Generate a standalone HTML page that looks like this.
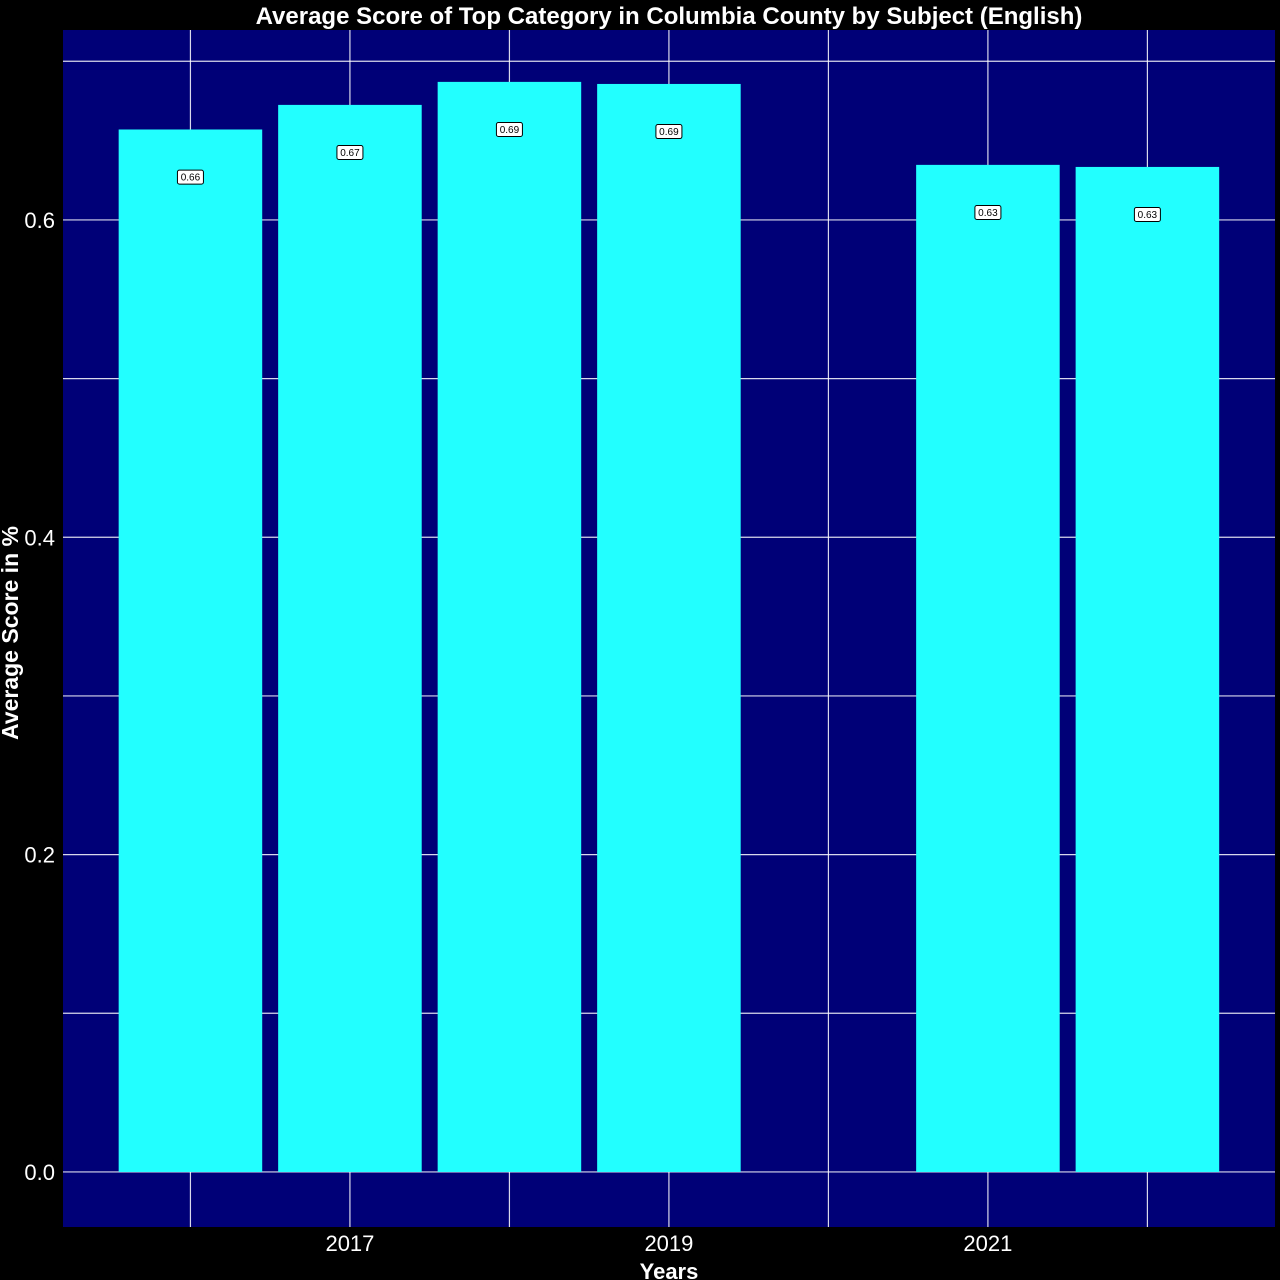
<!DOCTYPE html>
<html><head><meta charset="utf-8"><style>
html,body{margin:0;padding:0;background:#000;}
svg{display:block;font-family:"Liberation Sans",Arial,sans-serif;}
</style></head><body>
<svg id="chart" width="1280" height="1280">
<rect x="0" y="0" width="1280" height="1280" fill="#000"/>
<rect x="63" y="30" width="1212" height="1197" fill="#000077"/>
<g id="grid"></g>
<g id="bars"></g>
<g id="labels"></g>
<g id="axes"></g>
<text x="669" y="24" text-anchor="middle" font-size="24" font-weight="bold" fill="#fff">Average Score of Top Category in Columbia County by Subject (English)</text>
<text x="669" y="1279" text-anchor="middle" font-size="22" font-weight="bold" fill="#fff">Years</text>
<text transform="translate(18,633) rotate(-90)" text-anchor="middle" font-size="23" font-weight="bold" fill="#fff">Average Score in %</text>
</svg>
<script>
const years = [2016, 2017, 2018, 2019, 2021, 2022];
const scores = [0.657, 0.6725, 0.687, 0.6857, 0.6347, 0.6334];
const valueLabels = ["0.66", "0.67", "0.69", "0.69", "0.63", "0.63"];
const yTicks = [0, 0.2, 0.4, 0.6];
const yTickLabels = ["0.0", "0.2", "0.4", "0.6"];
const yGrid = [0, 0.1, 0.2, 0.3, 0.4, 0.5, 0.6, 0.7];
const xTicks = [2017, 2019, 2021];
const xGrid = [2016, 2017, 2018, 2019, 2020, 2021, 2022];

const NS = "http://www.w3.org/2000/svg";
const L = 63, R = 1275, T = 30, B = 1227;
const xMin = 2015.201, xMax = 2022.800, yMin = -0.0347, yMax = 0.7197;
const xs = v => L + (v - xMin) / (xMax - xMin) * (R - L);
const ys = v => B - (v - yMin) / (yMax - yMin) * (B - T);
function mk(tag, attrs, parent) {
  const e = document.createElementNS(NS, tag);
  for (const k in attrs) e.setAttribute(k, attrs[k]);
  parent.appendChild(e);
  return e;
}
const grid = document.getElementById('grid');
yGrid.forEach(v => {
  const l = mk('line', {x1: L, x2: R, y1: ys(v), y2: ys(v), stroke: '#ffffff', 'stroke-width': 1.2, 'stroke-opacity': 0.85}, grid);
  
  
});
xGrid.forEach(v => {
  const l = mk('line', {x1: xs(v), x2: xs(v), y1: T, y2: B, stroke: '#ffffff', 'stroke-width': 1.2, 'stroke-opacity': 0.85}, grid);
  
  
});
const bars = document.getElementById('bars');
const labels = document.getElementById('labels');
const bw = 0.9;
years.forEach((yr, i) => {
  const x0 = xs(yr - bw / 2), x1 = xs(yr + bw / 2);
  const r = mk('rect', {x: x0, y: ys(scores[i]), width: x1 - x0, height: ys(0) - ys(scores[i]), fill: '#22ffff'}, bars);
  
  
  const cy = ys(scores[i] - 0.03);
  const g = mk('g', {}, labels);
  
  
  mk('rect', {x: xs(yr) - 13, y: cy - 7, width: 26, height: 14, rx: 2, fill: '#fff', stroke: '#000', 'stroke-width': 1}, g);
  const t = mk('text', {x: xs(yr), y: cy + 3.5, 'text-anchor': 'middle', 'font-size': 10, fill: '#000'}, g);
  t.textContent = valueLabels[i];
});
const axes = document.getElementById('axes');
yTicks.forEach((v, i) => {
  const t = mk('text', {x: 55, y: ys(v) + 8, 'text-anchor': 'end', 'font-size': 22, fill: '#fff'}, axes);
  
  
  t.textContent = yTickLabels[i];
});
xTicks.forEach(v => {
  const t = mk('text', {x: xs(v), y: 1251, 'text-anchor': 'middle', 'font-size': 22, fill: '#fff'}, axes);
  
  
  t.textContent = String(v);
});
</script>
</body></html>
